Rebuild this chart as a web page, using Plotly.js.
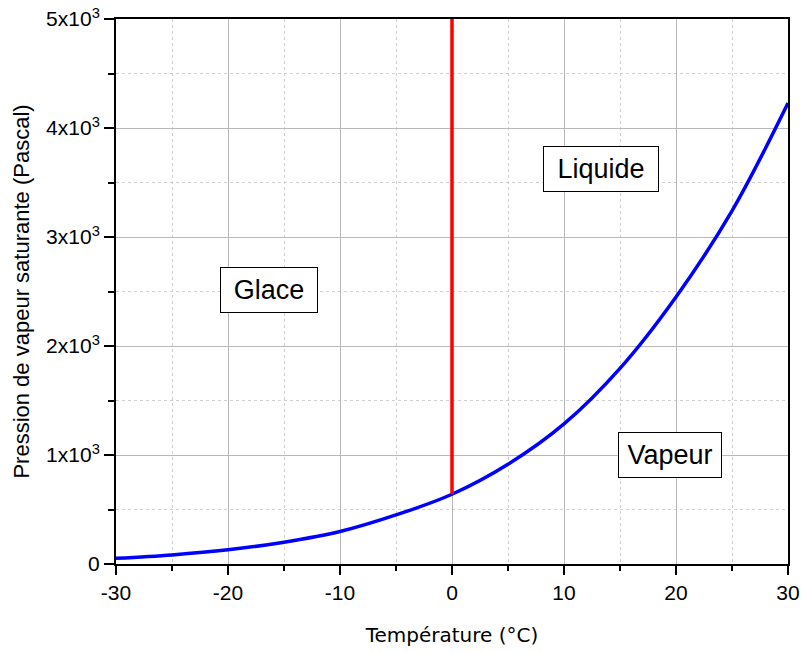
<!DOCTYPE html>
<html>
<head>
<meta charset="utf-8">
<script src="https://cdn.plot.ly/plotly-3.0.1.min.js"></script>
<style>html,body{margin:0;padding:0;background:#fff;}#chart{width:802px;height:652px;}</style>
</head>
<body>
<div id="chart"></div>
<script>
// Saturation vapour pressure curve
const temperature = [-30, -25, -20, -15, -10, -5, 0, 5, 10, 15, 20, 25, 30];
const pressure    = [52, 83, 130, 200, 298, 450, 640, 915, 1285, 1795, 2450, 3240, 4229];
// Ice / liquid boundary at 0 °C
const boundaryT = [0, 0];
const boundaryP = [640, 5000];
// Tick labels
const yTickVals = [0, 1000, 2000, 3000, 4000, 5000];
const yTickText = ['0', '1x10<sup>3</sup>', '2x10<sup>3</sup>', '3x10<sup>3</sup>', '4x10<sup>3</sup>', '5x10<sup>3</sup>'];
const xTickVals = [-30, -20, -10, 0, 10, 20, 30];
const xTickText = ['-30', '-20', '-10', '0', '10', '20', '30'];
// Region labels
const regionNames = ['Glace', 'Liquide', 'Vapeur'];
const regionT = [-16.3, 13.3, 19.5];
const regionP = [2518, 3628, 1000];
const regionW = [96, 114, 102];

const F = 'Liberation Sans, Arial, sans-serif';
const traces = [
  {x: temperature, y: pressure, mode: 'lines', line: {color: '#0000ff', width: 3.5, shape: 'spline', smoothing: 1}, hoverinfo: 'skip'},
  {x: boundaryT, y: boundaryP, mode: 'lines', line: {color: '#ff0000', width: 3.5}, hoverinfo: 'skip'}
];
const annotations = regionNames.map((n, i) => ({
  x: regionT[i], y: regionP[i], xref: 'x', yref: 'y', text: n, showarrow: false,
  font: {family: F, size: 27, color: '#000'}, bgcolor: '#ffffff', bordercolor: '#000', borderwidth: 1,
  borderpad: 0, width: regionW[i], height: 44
}));
const layout = {
  width: 802, height: 652,
  margin: {l: 116, r: 14, t: 19, b: 88},
  paper_bgcolor: '#fff', plot_bgcolor: '#fff',
  showlegend: false,
  xaxis: {
    range: [-30, 30], tickvals: xTickVals, ticktext: xTickText, ticks: 'outside', ticklen: 9, tickwidth: 2, tickcolor: '#000',
    showline: true, linecolor: '#000', linewidth: 2, mirror: true, zeroline: false,
    showgrid: true, gridcolor: '#b8b8b8', gridwidth: 1,
    minor: {dtick: 5, tick0: -30, ticks: 'outside', ticklen: 5, tickwidth: 2, tickcolor: '#000', showgrid: true, gridcolor: '#d0d0d0', griddash: 'dot', gridwidth: 1},
    tickfont: {family: F, size: 21, color: '#000'},
    title: {text: 'Température (°C)', font: {family: 'DejaVu Sans, Verdana, sans-serif', size: 20, color: '#000'}, standoff: 25}
  },
  yaxis: {
    range: [0, 5000], tickvals: yTickVals, ticktext: yTickText, ticks: 'outside', ticklen: 10, tickwidth: 2, tickcolor: '#000',
    showline: true, linecolor: '#000', linewidth: 2, mirror: true, zeroline: false,
    showgrid: true, gridcolor: '#b8b8b8', gridwidth: 1,
    minor: {dtick: 500, tick0: 0, ticks: 'outside', ticklen: 6, tickwidth: 2, tickcolor: '#000', showgrid: true, gridcolor: '#d0d0d0', griddash: 'dot', gridwidth: 1},
    tickfont: {family: F, size: 21, color: '#000'},
    title: {text: 'Pression de vapeur saturante (Pascal)', font: {family: F, size: 22, color: '#000'}, standoff: 10}
  },
  annotations: annotations
};
Plotly.newPlot('chart', traces, layout, {staticPlot: true, displayModeBar: false});
</script>
</body>
</html>
